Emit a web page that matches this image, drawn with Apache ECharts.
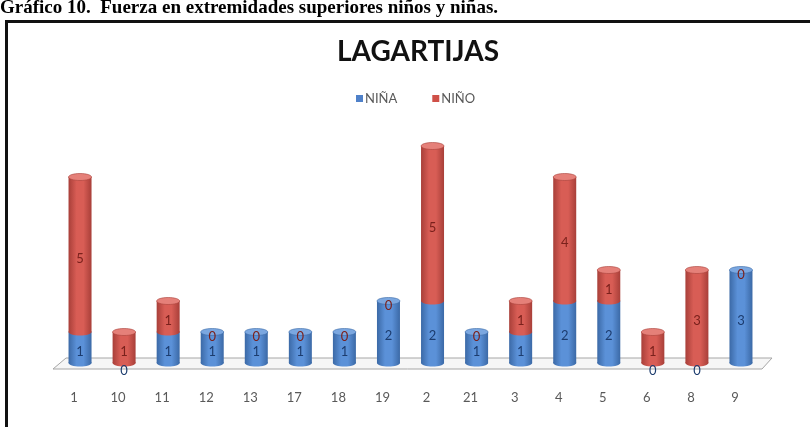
<!DOCTYPE html>
<html>
<head>
<meta charset="utf-8">
<script src="https://cdn.jsdelivr.net/npm/echarts@6/dist/echarts.min.js"></script>
<style>
  html, body { margin: 0; padding: 0; background: #fff; }
  #chart { width: 810px; height: 427px; }
</style>
</head>
<body>
<div id="chart"></div>
<script>
// Participant codes along the x axis
const categories = ['1', '10', '11', '12', '13', '17', '18', '19', '2', '21', '3', '4', '5', '6', '8', '9'];
// Push-up counts per group
const nina = [1, 0, 1, 1, 1, 1, 1, 2, 2, 1, 1, 2, 2, 0, 0, 3];
const nino = [5, 1, 1, 0, 0, 0, 0, 0, 5, 0, 1, 4, 1, 1, 3, 0];

const FONT = 'Lato, "Open Sans", sans-serif';

const PAL_NINA = { edge: '#3b69a6', mid: '#5b91d8', cap: '#7ba7e0', label: '#1c3c6e' };
const PAL_NINO = { edge: '#a83f39', mid: '#d85d55', cap: '#e58079', label: '#7a211c' };

// Stacked segments: [categoryIndex, start, end, value, stackTotal]
const ninaData = categories.map((c, i) => [i, 0, nina[i], nina[i], nina[i] + nino[i]]);
const ninoData = categories.map((c, i) => [i, nina[i], nina[i] + nino[i], nino[i], nina[i] + nino[i]]);
// Value labels for both segments: [categoryIndex, start, end, value, group]
const labelData = ninaData.map(d => [d[0], d[1], d[2], d[3], 0])
  .concat(ninoData.map(d => [d[0], d[1], d[2], d[3], 1]));

function cylinder(palette) {
  return function (params, api) {
    const i = api.value(0), s = api.value(1), e = api.value(2), total = api.value(4);
    const pb = api.coord([i, s]);
    const pt = api.coord([i, e]);
    const w = 23, rx = w / 2, ry = 3.5;
    const x0 = pb[0] - rx;
    const grad = {
      type: 'linear', x: 0, y: 0, x2: 1, y2: 0,
      colorStops: [
        { offset: 0, color: palette.edge },
        { offset: 0.35, color: palette.mid },
        { offset: 0.65, color: palette.mid },
        { offset: 1, color: palette.edge }
      ]
    };
    const children = [];
    if (e > s) {
      children.push({ type: 'ellipse', shape: { cx: pb[0], cy: pb[1], rx: rx, ry: ry }, style: { fill: grad } });
      children.push({ type: 'rect', shape: { x: x0, y: pt[1], width: w, height: pb[1] - pt[1] }, style: { fill: grad } });
      if (e === total) {
        children.push({ type: 'ellipse', shape: { cx: pt[0], cy: pt[1], rx: rx, ry: ry },
          style: { fill: palette.cap, stroke: palette.edge, lineWidth: 0.6 } });
      }
    }
    return { type: 'group', children: children };
  };
}

const chart = echarts.init(document.getElementById('chart'), null, { renderer: 'canvas' });
chart.setOption({
  animation: false,
  backgroundColor: '#ffffff',
  title: {
    text: 'LAGARTIJAS', left: 413, top: 33, textAlign: 'center',
    textStyle: { fontFamily: FONT, fontWeight: 'bold', fontSize: 28, color: '#111' }
  },
  legend: {
    data: ['NIÑA', 'NIÑO'], top: 87, left: 351,
    icon: 'rect', itemWidth: 7, itemHeight: 7, itemGap: 35,
    textStyle: { fontFamily: FONT, fontSize: 13, color: '#595959', padding: [0, 0, 0, -3] }
  },
  grid: { left: 58, right: 47, top: 146, bottom: 64 },
  xAxis: {
    type: 'category', data: categories,
    axisLine: { show: false }, axisTick: { show: false },
    axisLabel: { margin: 28, fontFamily: FONT, fontSize: 13, color: '#595959', padding: [0, 12, 0, 0] }
  },
  yAxis: { type: 'value', min: 0, max: 7, interval: 1, show: false, splitLine: { show: false } },
  graphic: [
    { type: 'text', left: 0, top: -1, style: { text: 'Gráfico 10.  Fuerza en extremidades superiores niños y niñas.',
      font: 'bold 19px "Liberation Serif", "DejaVu Serif", serif', fill: '#000' } },
    { type: 'line', shape: { x1: 5, y1: 21.5, x2: 810, y2: 21.5 }, style: { stroke: '#111', lineWidth: 3 } },
    { type: 'line', shape: { x1: 6.5, y1: 20, x2: 6.5, y2: 427 }, style: { stroke: '#111', lineWidth: 3 } }
  ],
  series: [
    {
      name: 'floor', type: 'custom', data: [[0]], silent: true, z: 1,
      renderItem: function (params, api) {
        const band = api.size([1, 0])[0];
        const y0 = api.coord([0, 0])[1];
        const xl = api.coord([0, 0])[0] - band / 2;
        const xr = api.coord([categories.length - 1, 0])[0] + band / 2;
        return {
          type: 'polygon',
          shape: { points: [[xl + 8, y0 - 5], [xr + 9, y0 - 5], [xr - 1, y0 + 6], [xl - 5, y0 + 6]] },
          style: { fill: '#f6f6f6', stroke: '#a6a6a6', lineWidth: 1 }
        };
      }
    },
    {
      name: 'NIÑA', type: 'custom', data: ninaData, z: 2,
      itemStyle: { color: '#4f81c9' },
      renderItem: cylinder(PAL_NINA)
    },
    {
      name: 'NIÑO', type: 'custom', data: ninoData, z: 3,
      itemStyle: { color: '#cf5048' },
      renderItem: cylinder(PAL_NINO)
    },
    {
      name: 'labels', type: 'custom', data: labelData, z: 5, silent: true,
      renderItem: function (params, api) {
        const i = api.value(0), s = api.value(1), e = api.value(2), v = api.value(3), g = api.value(4);
        const pb = api.coord([i, s]);
        const pt = api.coord([i, e]);
        const off = (e > s) ? 4 : (g === 0 ? 8 : 5);
        return {
          type: 'text',
          style: {
            text: String(v), x: pb[0], y: (pt[1] + pb[1]) / 2 + off,
            align: 'center', verticalAlign: 'middle',
            fill: g === 0 ? PAL_NINA.label : PAL_NINO.label, font: '13px ' + FONT
          }
        };
      }
    }
  ]
});
</script>
</body>
</html>
